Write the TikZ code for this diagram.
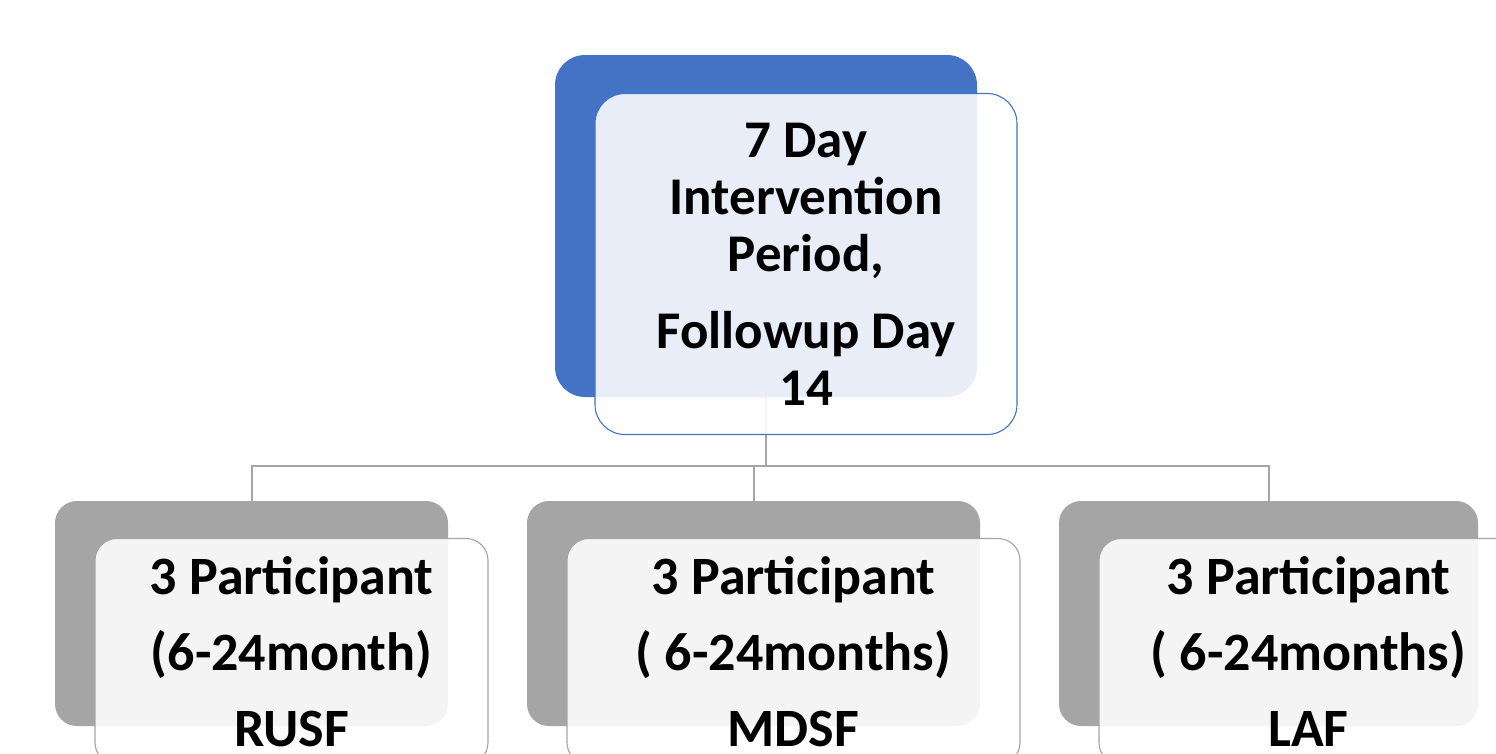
\documentclass[tikz,border=0pt]{standalone}
\usepackage{fontspec}
\setmainfont{Carlito}
\usepackage{tikz}
\usetikzlibrary{calc}

\definecolor{accblue}{HTML}{4472C4}
\definecolor{accgray}{HTML}{A5A5A5}

\begin{document}
\begin{tikzpicture}[x=1pt, y=-1pt,
	back/.style={rectangle, rounded corners=#1, inner sep=0pt},
	front/.style={rectangle, rounded corners=#1, inner sep=0pt, fill=white, fill opacity=0.88, text opacity=1, line width=1.1pt, align=center},
	link/.style={draw=accgray, line width=2pt}]
	\def\dx{40}
	\def\dy{38}

	\useasboundingbox (0,0) rectangle (1496,753);
	\clip (0,0) rectangle (1496,753);

	% back plates
	\node[back=30pt, fill=accblue, minimum width=422, minimum height=342]	(topback) at (766,226) {};
	\node[back=22pt, fill=accgray, minimum width=393, minimum height=225]	(rusfback) at (251.5,613.5) {};
	\node[back=22pt, fill=accgray, minimum width=453, minimum height=225]	(mdsfback) at (753.5,613.5) {};
	\node[back=22pt, fill=accgray, minimum width=419, minimum height=225]	(lafback) at (1268.5,613.5) {};

	% connectors
	\draw[link]	(topback.south) -- ++(0,69) coordinate (hub);
	\draw[link]	(hub) -| (rusfback.north);
	\draw[link]	(hub) -| (mdsfback.north);
	\draw[link]	(hub) -| (lafback.north);

	% front plates
	\node[front=30pt, draw=accblue, minimum width=422, minimum height=341, font=\fontsize{53}{57}\selectfont\bfseries]
		(top) at ($(topback)+(\dx,\dy)$) {7 Day\\Intervention\\Period,\\[20pt]Followup Day\\14};
	\node[front=22pt, draw=accgray, minimum width=393, minimum height=226, font=\fontsize{54}{76}\selectfont\bfseries]
		(rusf) at ($(rusfback)+(\dx,\dy)$) {3 Participant\\(6-24month)\\RUSF};
	\node[front=22pt, draw=accgray, minimum width=453, minimum height=226, font=\fontsize{54}{76}\selectfont\bfseries]
		(mdsf) at ($(mdsfback)+(\dx,\dy)$) {3 Participant\\( 6-24months)\\MDSF};
	\node[front=22pt, draw=accgray, minimum width=419, minimum height=226, font=\fontsize{54}{76}\selectfont\bfseries]
		(laf) at ($(lafback)+(\dx,\dy)$) {3 Participant\\( 6-24months)\\LAF};
\end{tikzpicture}
\end{document}
